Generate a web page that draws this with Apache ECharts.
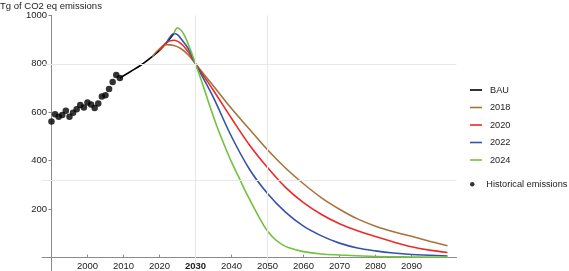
<!DOCTYPE html>
<html>
<head>
<meta charset="utf-8">
<script src="https://cdn.jsdelivr.net/npm/echarts@6/dist/echarts.min.js"></script>
<style>
  html, body { margin: 0; padding: 0; background: #fff; }
  #main { width: 569px; height: 271px; }
</style>
</head>
<body>
<div id="main"></div>
<script>
  // all years are plotted as offsets from 1990 so the y axis can sit on x = 0
  const baseYear = 1990

  const histYears = [1990, 1991, 1992, 1993, 1994, 1995, 1996, 1997, 1998, 1999,
    2000, 2001, 2002, 2003, 2004, 2005, 2006, 2007, 2008, 2009]
  const histValues = [562, 592, 581, 589, 606, 581, 598, 612, 630, 620,
    640, 632, 618, 636, 665, 670, 696, 725, 754, 741]

  const bauYears = [2009, 2012, 2015, 2018, 2020, 2022, 2024]
  const bauValues = [741, 768, 796, 830, 855, 888, 925]

  const brownYears = [2018, 2020, 2022, 2024, 2026, 2028, 2030, 2035, 2040, 2045, 2050, 2055, 2060, 2065, 2070, 2075, 2080, 2085, 2090, 2095, 2100]
  const brownValues = [830, 862, 879, 875, 862, 836, 800, 708, 615, 530, 445, 370, 305, 247, 200, 160, 130, 107, 88, 68, 49]

  const redYears = [2020, 2022, 2024, 2026, 2028, 2030, 2035, 2040, 2045, 2050, 2055, 2060, 2065, 2070, 2075, 2080, 2085, 2090, 2095, 2100]
  const redValues = [855, 888, 897, 883, 848, 800, 690, 575, 465, 372, 290, 227, 178, 140, 111, 87, 65, 45, 31, 21]

  const blueYears = [2022, 2023, 2024, 2025, 2026, 2028, 2030, 2032, 2035, 2040, 2045, 2050, 2055, 2060, 2065, 2070, 2075, 2080, 2085, 2090, 2095, 2100]
  const blueValues = [888, 912, 925, 920, 903, 862, 800, 745, 660, 500, 365, 265, 188, 130, 90, 60, 40, 28, 19, 13, 10, 7]

  const greenYears = [2024, 2025, 2026, 2027, 2028, 2029, 2030, 2032, 2034, 2036, 2038, 2040, 2042, 2044, 2046, 2048, 2050, 2052, 2054, 2056, 2060, 2065, 2070, 2080, 2090, 2100]
  const greenValues = [925, 948, 938, 915, 880, 842, 800, 715, 625, 540, 465, 395, 333, 270, 213, 158, 110, 77, 55, 41, 25, 15, 11, 5, 3, 2]

  const xTickYears = [2000, 2010, 2020, 2030, 2040, 2050, 2060, 2070, 2080, 2090]
  const yTickValues = [200, 400, 600, 800, 1000]
  const gridYears = [2030, 2050]
  const gridValues = [800, 320]

  function pairs(years, values) {
    return years.map((y, i) => [y - baseYear, values[i]])
  }

  const font = 'Liberation Sans'
  const chart = echarts.init(document.getElementById('main'))

  function curve(name, years, values, color) {
    return {
      name: name,
      type: 'line',
      data: pairs(years, values),
      smooth: 0.35,
      symbol: 'none',
      lineStyle: { width: 1.6, color: color },
      itemStyle: { color: color },
      z: 3
    }
  }

  chart.setOption({
    animation: false,
    textStyle: { fontFamily: font },
    title: {
      text: 'Tg of CO2 eq emissions',
      left: -5,
      top: -4,
      textStyle: { fontSize: 9.5, fontWeight: 'normal', color: '#222', fontFamily: font }
    },
    grid: { left: 42.1, right: 112.5, top: 15.3, bottom: 0, outerBoundsMode: 'none' },
    legend: [
      {
        data: ['BAU', '2018', '2020', '2022', '2024'],
        orient: 'vertical',
        left: 465,
        top: 79,
        icon: 'rect',
        itemWidth: 12,
        itemHeight: 1.6,
        itemGap: 5.5,
        textStyle: { fontSize: 9.2, lineHeight: 12, color: '#222', padding: [0, 0, 0, 3] }
      },
      {
        data: ['Historical emissions'],
        orient: 'vertical',
        left: 465,
        top: 173.3,
        icon: 'circle',
        itemWidth: 12,
        itemHeight: 4.5,
        textStyle: { fontSize: 9.2, lineHeight: 12, color: '#222', padding: [0, 0, 0, 3] }
      }
    ],
    xAxis: {
      type: 'value',
      min: -2.6,
      max: 112.5,
      axisLine: { onZero: true, lineStyle: { color: '#8a8a8a', width: 1 } },
      axisTick: {
        inside: true,
        length: 3,
        customValues: xTickYears.map(y => y - baseYear),
        lineStyle: { color: '#8a8a8a' }
      },
      axisLabel: {
        customValues: xTickYears.map(y => y - baseYear),
        margin: -10,
        fontSize: 9.5,
        color: '#222',
        formatter: function (v) {
          let y = Math.round(v + baseYear)
          return y === 2030 ? '{b|' + y + '}' : String(y)
        },
        rich: { b: { fontWeight: 'bold', fontSize: 9.5, color: '#222' } }
      },
      splitLine: { show: false }
    },
    yAxis: {
      type: 'value',
      min: -55,
      max: 1000,
      axisLine: { show: true, onZero: true, lineStyle: { color: '#8a8a8a', width: 1 } },
      axisTick: {
        show: true,
        length: 3,
        customValues: yTickValues,
        lineStyle: { color: '#8a8a8a' }
      },
      axisLabel: {
        customValues: yTickValues,
        margin: -5,
        fontSize: 9.5,
        color: '#222',
        formatter: function (v) {
          return String(v)
        }
      },
      splitLine: { show: false }
    },
    series: [
      {
        name: 'grid',
        type: 'line',
        data: [],
        silent: true,
        z: 1,
        markLine: {
          silent: true,
          symbol: 'none',
          label: { show: false },
          lineStyle: { color: '#e8e8e8', width: 1, type: 'solid' },
          data: gridYears.map(y => ({ xAxis: y - baseYear }))
            .concat(gridValues.map(v => ({ yAxis: v })))
        }
      },
      curve('BAU', bauYears, bauValues, '#000000'),
      curve('2018', brownYears, brownValues, '#a8733a'),
      curve('2020', redYears, redValues, '#ec2a2a'),
      curve('2022', blueYears, blueValues, '#3553a8'),
      curve('2024', greenYears, greenValues, '#72c23c'),
      {
        name: 'Historical emissions',
        type: 'scatter',
        data: pairs(histYears, histValues),
        symbolSize: 6.5,
        itemStyle: { color: '#000' },
        z: 4
      }
    ]
  })
</script>
</body>
</html>
